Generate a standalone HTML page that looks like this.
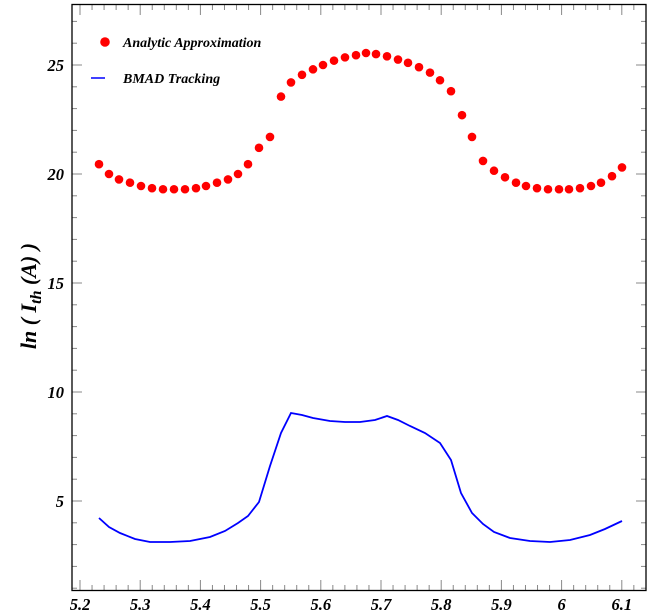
<!DOCTYPE html>
<html><head><meta charset="utf-8"><style>body{margin:0;background:#fff}svg{display:block}</style></head>
<body>
<svg id="s" width="655" height="615" xmlns="http://www.w3.org/2000/svg" font-family="Liberation Serif, serif" font-weight="bold" font-style="italic">
<rect width="655" height="615" fill="#fff"/>
<g id="ticks" stroke="#888" stroke-width="1"></g>
<rect x="72" y="4.5" width="574" height="586" fill="none" stroke="#000" stroke-width="1.3"/>
<g id="lab" font-size="16.5" fill="#000"></g>
<text transform="translate(36,296) rotate(-90)" text-anchor="middle" font-size="22">ln ( I<tspan font-size="16" dy="5">th</tspan><tspan dy="-5"> (A) )</tspan></text>
<circle cx="105" cy="42" r="4.8" fill="#f00"/>
<text x="123" y="47" font-size="14">Analytic Approximation</text>
<line x1="91" y1="78" x2="105" y2="78" stroke="#00f" stroke-width="1.5"/>
<text x="123" y="83" font-size="14">BMAD Tracking</text>
<polyline fill="none" stroke="#00f" stroke-width="1.8" points="99,518 109,527 120,533 135,539 150,542 170,542 190,541 210,537 225,531 238,523 248,516 259,502 270,466 281,433 291,413 302,415 313,418 330,421 345,422 360,422 375,420 387,416 398,420 410,426 425,433 440,443 451,460 461,493 472,513 483,524 494,532 510,538 530,541 550,542 570,540 590,535 605,529 622,521"/>
<g id="dots" fill="#f00"></g>
</svg>
<script>
var NS="http://www.w3.org/2000/svg";
function el(p,t,a,txt){var e=document.createElementNS(NS,t);for(var k in a)e.setAttribute(k,a[k]);if(txt)e.textContent=txt;document.getElementById(p).appendChild(e);}
function X(v){return 80+(v-5.2)*602;}function Y(v){return 174-(v-20)*21.8;}
for(var i=0;i<=49;i++){var v=5.2+i*0.02;var x=X(v);if(x>645)break;var maj=i%5==0;var L=maj?10:5;
el("ticks","line",{x1:x,y1:590,x2:x,y2:590-L});el("ticks","line",{x1:x,y1:5,x2:x,y2:5+L});
if(maj){var s=(Math.round(v*10)/10).toString();el("lab","text",{x:x,y:610,"text-anchor":"middle"},s);}}
for(var v=1;v<=27;v++){var y=Y(v);var maj=v%5==0;var L=maj?10:5;
el("ticks","line",{x1:72,y1:y,x2:72+L,y2:y});el("ticks","line",{x1:646,y1:y,x2:646-L,y2:y});
if(maj)el("lab","text",{x:64,y:y+6,"text-anchor":"end"},String(v));}
var d=[[99,20.45],[109,20.0],[119,19.75],[130,19.6],[141,19.45],[152,19.35],[163,19.3],[174,19.3],[185,19.3],[196,19.35],[206,19.45],[217,19.6],[228,19.75],[238,20.0],[248,20.45],[259,21.2],[270,21.7],[281,23.55],[291,24.2],[302,24.55],[313,24.8],[323,25.0],[334,25.2],[345,25.35],[356,25.45],[366,25.55],[376,25.5],[387,25.4],[398,25.25],[408,25.1],[419,24.9],[430,24.65],[440,24.3],[451,23.8],[462,22.7],[472,21.7],[483,20.6],[494,20.15],[505,19.85],[516,19.6],[526,19.45],[537,19.35],[548,19.3],[559,19.3],[569,19.3],[580,19.35],[591,19.45],[601,19.6],[612,19.9],[622,20.3]];
d.forEach(function(p){el("dots","circle",{cx:p[0],cy:Y(p[1]),r:4.3});});
</script>
</body></html>
